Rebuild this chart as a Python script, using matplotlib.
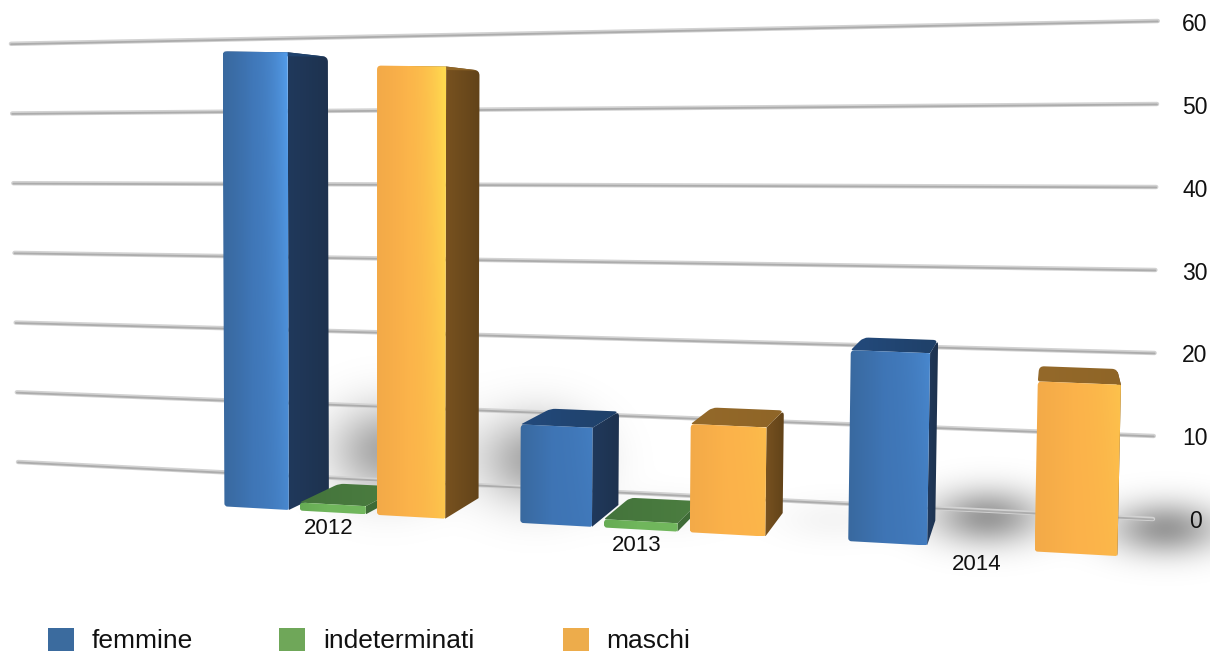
import numpy as np
import matplotlib
matplotlib.use("Agg")
import matplotlib.pyplot as plt
from matplotlib.patches import PathPatch, Rectangle
from matplotlib.path import Path

# ---- data ----
years = ["2012", "2013", "2014"]
femmine = [57, 12, 22.6]
indeterminati = [1, 1, 0]
maschi = [55.5, 13, 19.8]
series_names = ["femmine", "indeterminati", "maschi"]
value_ticks = [0, 10, 20, 30, 40, 50, 60]

W, H = 1210, 651
plt.rcParams["font.family"] = ["Liberation Sans", "DejaVu Sans"]

fig = plt.figure(figsize=(W / 100, H / 100), dpi=100, facecolor="white")
ax = fig.add_axes([0, 0, 1, 1])
ax.axis("off")
ax.set_autoscale_on(False)

# ---- perspective scale ----
VP = (1060.0, 140.0)
SLOT = 0.2645
BAR_W = 0.227
GROUP_SHADOW = [1.0, 0.12, 1.15]


def screen_x(u):
    return 332.5 + 292.0 * u + 16.0 * u * u


def base_y(x):
    return 510.0 + 0.0556 * (x - 289.0)


def project(u, v, depth=0.0):
    """category coordinate u, value v, depth 0..1 -> picture coordinates"""
    x0 = screen_x(u)
    h = v * (8.03 + 0.00075 * (x0 - 289.0))
    x = x0 + h * (x0 - 370.0) * 2.8e-5
    y = base_y(x0) - h
    f = depth * (0.052 + 1.5e-5 * (x0 - 289.0))
    return x + f * (VP[0] - x), y + f * (VP[1] - y)


def wall(v):
    """grid line ends on the back wall for value v"""
    left = (18.0 - 0.117 * v, 462.0 - 6.97 * v)
    right = (1153.0 + 0.08 * v, 519.0 - 8.3 * v)
    return left, right


def rgb(c):
    return np.array(matplotlib.colors.to_rgb(c))


def rounded_path(poly, radii):
    poly = np.array(poly, dtype=float)
    n = len(poly)
    verts, codes = [], []
    for i in range(n):
        p, prev, nxt = poly[i], poly[i - 1], poly[(i + 1) % n]
        r = radii[i]
        d1 = prev - p
        d2 = nxt - p
        l1, l2 = np.hypot(*d1), np.hypot(*d2)
        r1 = min(r, l1 * 0.45)
        r2 = min(r, l2 * 0.45)
        a = p + d1 / max(l1, 1e-6) * r1
        b = p + d2 / max(l2, 1e-6) * r2
        verts.append(a)
        codes.append(Path.MOVETO if i == 0 else Path.LINETO)
        verts += [p, b]
        codes += [Path.CURVE3, Path.CURVE3]
    verts.append(verts[0])
    codes.append(Path.CLOSEPOLY)
    return Path(np.array(verts), codes)


z = [10]


def face(poly, radii, fn):
    poly = np.array(poly)
    x0, y0 = poly.min(axis=0)
    x1, y1 = poly.max(axis=0)
    nx = max(int(x1 - x0) + 2, 2)
    ny = max(int(y1 - y0) + 2, 2)
    t, s = np.meshgrid(np.linspace(0, 1, nx), np.linspace(0, 1, ny))
    img = np.clip(fn(t, s, y1 - y0), 0, 1)
    z[0] += 1
    im = ax.imshow(img, extent=(x0, x1, y1, y0), origin="upper", aspect="auto",
                   interpolation="bilinear", zorder=z[0])
    patch = PathPatch(rounded_path(poly, radii), transform=ax.transData)
    im.set_clip_path(patch)


def front_fn(dark, base, glow):
    dark, base, glow = rgb(dark), rgb(base), rgb(glow)

    def fn(t, s, hgt):
        strength = np.clip(hgt / 450.0, 0.12, 1.0)
        a = np.clip(t / 0.45, 0, 1)[..., None]
        col = dark * (1 - a) + base * a
        g = (t ** 3 * strength * (1.15 - 0.6 * s))[..., None]
        g = np.clip(g, 0, 1)
        return col * (1 - g) + glow * g
    return fn


def flat_fn(c1, c2):
    c1, c2 = rgb(c1), rgb(c2)

    def fn(t, s, hgt):
        a = t[..., None]
        return c1 * (1 - a) + c2 * a
    return fn


STYLES = {
    "femmine": dict(front=("#39699f", "#3e74b4", "#539be8"), side=("#20395c", "#1e324e"),
                    top=("#234a7c", "#1f4068")),
    "indeterminati": dict(front=("#66ab54", "#70b65c", "#86cc6c"), side=("#3f6b37", "#3f6b37"),
                          top=("#44743c", "#4c7e40")),
    "maschi": dict(front=("#f3aa48", "#fbb14a", "#ffd94f"), side=("#785220", "#624319"),
                   top=("#94692a", "#8f6527")),
}

# ---- grid ----
for v in value_ticks:
    (xl, yl), (xr, yr) = wall(v)
    ax.plot([xl, xr], [yl, yr], color="#d2d2d2", lw=3.2, solid_capstyle="round", zorder=3)
    ax.plot([xl, xr], [yl + 0.4, yr + 0.4], color="#acacac", lw=1.3, solid_capstyle="round", zorder=4)
    ax.text(1195, 521.5 - 8.28 * v, str(v), fontsize=16.5, ha="center",
            va="center", color="#111111", zorder=50)

# ---- floor shadows ----
yy, xx = np.mgrid[0:H, 0:W]
shadow = np.zeros((H, W))
for g in range(len(years)):
    for off, vals in ((-SLOT, femmine), (SLOT, maschi)):
        u = g + off
        v = vals[g]
        xr_, yb = project(u + BAR_W / 2, 0.0, 1.0)
        hgt = v * 8.2
        cx = xr_ + 48 + 0.02 * hgt
        cy = yb + 20 - 0.13 * hgt
        sx = 55.0
        sy = 17 + 0.06 * hgt
        shadow += 0.35 * GROUP_SHADOW[g] * np.exp(-((xx - cx) / sx) ** 2 - ((yy - cy) / sy) ** 2)
shadow = np.clip(shadow, 0, 0.5)
rgba = np.zeros((H, W, 4))
rgba[..., 3] = shadow
ax.imshow(rgba, extent=(0, W, H, 0), origin="upper", aspect="auto", zorder=2)

# ---- bars ----
for g in range(len(years)):
    for idx, (name, vals) in enumerate(zip(series_names, (femmine, indeterminati, maschi))):
        v = vals[g]
        if v <= 0:
            continue
        u = g + (idx - 1) * SLOT
        ul, ur = u - BAR_W / 2, u + BAR_W / 2
        st = STYLES[name]
        fbl, fbr = project(ul, 0), project(ur, 0)
        ftl, ftr = project(ul, v), project(ur, v)
        bbr = project(ur, 0, 1)
        btl, btr = project(ul, v, 1), project(ur, v, 1)
        face([fbr, ftr, btr, bbr], [0, 0, 5, 0], flat_fn(*st["side"]))
        face([ftl, ftr, btr, btl], [2, 0, 5, 5], flat_fn(*st["top"]))
        face([fbl, fbr, ftr, ftl], [3, 2, 1, 4], front_fn(*st["front"]))
    lx, ly = project(g, 0)
    ax.text(lx - 4, ly + 16, years[g], fontsize=16, ha="center", va="center",
            color="#111111", zorder=60)

# ---- legend ----
legend_colors = ["#3b6b9e", "#6fa759", "#edac4b"]
legend_box_x = [48, 279, 563]
legend_text_x = [92, 323, 606]
for name, col, bx, tx in zip(series_names, legend_colors, legend_box_x, legend_text_x):
    ax.add_patch(Rectangle((bx, 628), 26, 24, facecolor=col, edgecolor="none", zorder=60))
    ax.text(tx, 641, name, fontsize=19, ha="left", va="center", color="#111111", zorder=60)

ax.set_xlim(0, W)
ax.set_ylim(H, 0)
fig.savefig("out.png", dpi=100, facecolor="white")
